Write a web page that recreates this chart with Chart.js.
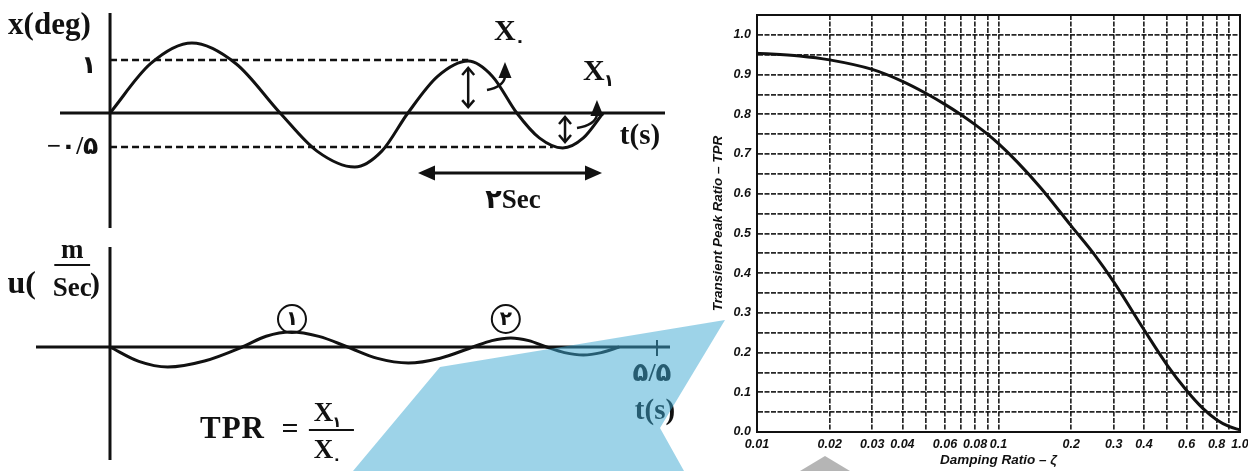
<!DOCTYPE html>
<html>
<head>
<meta charset="utf-8">
<script src="https://cdn.jsdelivr.net/npm/chart.js@4.4.1/dist/chart.umd.min.js"></script>
<style>
  html, body { margin: 0; padding: 0; background: #fff; }
  #page { position: relative; width: 1248px; height: 471px; overflow: hidden; }
  canvas { position: absolute; }
  #angle { left: 0; top: 0; }
  #speed { left: 0; top: 235px; }
  #tpr { left: 700px; top: 0; }
  .shape { position: absolute; left: 0; top: 0; width: 1248px; height: 471px; pointer-events: none; }
  #blue { background: rgba(60, 167, 209, 0.5); clip-path: polygon(353px 471px, 440px 367px, 725px 320px, 660px 428px, 684px 471px); }
  #gray { background: #b5b5b5; clip-path: polygon(800px 471px, 825px 456px, 850px 471px); }
</style>
</head>
<body>
<div id="page">
  <canvas id="angle" width="700" height="235"></canvas>
  <canvas id="speed" width="700" height="236"></canvas>
  <canvas id="tpr" width="548" height="471"></canvas>
  <div id="blue" class="shape"></div>
  <div id="gray" class="shape"></div>
</div>
<script>
// --- top sketch: roll angle x(deg) against t(s)
const angleTime = [0, 0.45, 0.91, 1.4, 1.89, 2.3, 2.72, 3.02, 3.31, 3.64, 3.98, 4.25, 4.52, 4.77, 5.03, 5.26, 5.48];
const angleDeg = [0, 0.93, 1.32, 0.93, 0, -0.72, -1.02, -0.72, 0, 0.69, 0.98, 0.69, 0, -0.47, -0.66, -0.47, 0];
const peakLevels = [1, -0.64];
const peakLevelLabels = ['۱', '−۰/۵'];
const peakLevelEnds = [3.98, 4.92];

// --- bottom sketch: u(m/Sec) against t(s)
const speedTime = [0, 0.29, 0.58, 0.95, 1.33, 1.57, 1.82, 2.1, 2.39, 2.69, 3.0, 3.32, 3.65, 3.84, 4.03, 4.21, 4.39, 4.57, 4.76, 4.94, 5.12];
const speedValue = [0, -0.72, -1.0, -0.7, 0, 0.54, 0.75, 0.53, 0, -0.57, -0.8, -0.56, 0, 0.32, 0.45, 0.32, 0, -0.28, -0.4, -0.28, 0];
const speedPeakTimes = [1.83, 3.98];
const speedPeakLabels = ['۱', '۲'];
const speedEndTick = 5.5;
const speedEndLabel = '۵/۵';

// --- right chart: transient peak ratio against damping ratio
const dampingRatio = [0.01, 0.015, 0.02, 0.03, 0.04, 0.05, 0.06, 0.07, 0.08, 0.09, 0.1, 0.12, 0.15, 0.2, 0.25, 0.3, 0.4, 0.5, 0.6, 0.7, 0.8, 0.9, 1.0];
const peakRatio = [0.954, 0.947, 0.937, 0.913, 0.883, 0.853, 0.825, 0.799, 0.774, 0.750, 0.726, 0.679, 0.614, 0.519, 0.446, 0.378, 0.258, 0.168, 0.105, 0.060, 0.031, 0.014, 0.005];
const dampingGrid = [0.01, 0.02, 0.03, 0.04, 0.05, 0.06, 0.07, 0.08, 0.09, 0.1, 0.2, 0.3, 0.4, 0.5, 0.6, 0.7, 0.8, 0.9, 1.0];
const dampingLabelValues = [0.01, 0.02, 0.03, 0.04, 0.06, 0.08, 0.1, 0.2, 0.3, 0.4, 0.6, 0.8, 1.0];
const dampingTickLabels = ['0.01', '0.02', '0.03', '0.04', '0.06', '0.08', '0.1', '0.2', '0.3', '0.4', '0.6', '0.8', '1.0'];
const ratioGrid = [0, 0.05, 0.1, 0.15, 0.2, 0.25, 0.3, 0.35, 0.4, 0.45, 0.5, 0.55, 0.6, 0.65, 0.7, 0.75, 0.8, 0.85, 0.9, 0.95, 1.0];
const ratioTickLabels = ['0.0', '', '0.1', '', '0.2', '', '0.3', '', '0.4', '', '0.5', '', '0.6', '', '0.7', '', '0.8', '', '0.9', '', '1.0'];

const ink = '#111';
const serif = '"Liberation Serif", "DejaVu Sans", serif';
const bold = size => `bold ${size}px ${serif}`;
const plotFont = '"Liberation Sans", Arial, sans-serif';

function seg(ctx, x1, y1, x2, y2) {
    ctx.beginPath();
    ctx.moveTo(x1, y1);
    ctx.lineTo(x2, y2);
    ctx.stroke();
}

function label(ctx, text, x, y, font, align = 'center', spacing = 0) {
    ctx.font = font;
    ctx.textAlign = align;
    ctx.textBaseline = 'middle';
    ctx.letterSpacing = spacing + 'px';
    ctx.fillText(text, x, y);
    ctx.letterSpacing = '0px';
}

// filled arrow head, tip at (x, y), pointing along angle
function head(ctx, x, y, angle, len, half) {
    const c = Math.cos(angle), s = Math.sin(angle);
    ctx.beginPath();
    ctx.moveTo(x, y);
    ctx.lineTo(x - len * c - half * s, y - len * s + half * c);
    ctx.lineTo(x - len * c + half * s, y - len * s - half * c);
    ctx.closePath();
    ctx.fill();
}

// vertical double arrow with open heads
function vArrow(ctx, x, yTop, yBot) {
    ctx.lineWidth = 2.5;
    seg(ctx, x, yTop, x, yBot);
    ctx.beginPath();
    ctx.moveTo(x - 6, yTop + 7); ctx.lineTo(x, yTop); ctx.lineTo(x + 6, yTop + 7);
    ctx.moveTo(x - 6, yBot - 7); ctx.lineTo(x, yBot); ctx.lineTo(x + 6, yBot - 7);
    ctx.stroke();
}

// curved pointer that bends upward into a filled head
function pointer(ctx, x0, y0, x1, y1) {
    ctx.lineWidth = 2.5;
    ctx.beginPath();
    ctx.moveTo(x0, y0);
    ctx.quadraticCurveTo(x1 - 2, y0 - 3, x1, y1);
    ctx.stroke();
    head(ctx, x1, y1 - 15, -Math.PI / 2, 16, 6.5);
}

function subscripted(ctx, sub, x, y, size) {
    ctx.font = bold(size);
    ctx.textAlign = 'left';
    ctx.textBaseline = 'middle';
    ctx.fillText('X', x, y);
    const w = ctx.measureText('X').width;
    ctx.font = bold(Math.round(size * 0.55));
    ctx.fillText(sub, x + w - 1, y + size * 0.33);
}

const noChrome = {
    responsive: false,
    animation: false,
    events: [],
    plugins: { legend: { display: false }, tooltip: { enabled: false } }
};

// ---------- top sketch ----------
const angleDecor = {
    id: 'angleDecor',
    beforeDatasetsDraw(chart) {
        const { ctx, chartArea: a, scales: { x, y } } = chart;
        ctx.save();
        ctx.strokeStyle = ink;
        ctx.lineWidth = 3;
        seg(ctx, a.left, y.getPixelForValue(0), a.right, y.getPixelForValue(0));
        seg(ctx, x.getPixelForValue(0), a.top, x.getPixelForValue(0), a.bottom);
        ctx.restore();
    },
    afterDatasetsDraw(chart) {
        const { ctx, scales: { x, y } } = chart;
        const X = v => x.getPixelForValue(v), Y = v => y.getPixelForValue(v);
        ctx.save();
        ctx.fillStyle = ink;
        ctx.strokeStyle = ink;
        label(ctx, 'x(deg)', X(-1.133), Y(1.64), bold(31), 'left');
        label(ctx, peakLevelLabels[0], X(-0.15), Y(peakLevels[0]) + 7, bold(25), 'right');
        label(ctx, peakLevelLabels[1], X(-0.13), Y(peakLevels[1]) + 1, bold(25), 'right', 10);
        label(ctx, 't(s)', X(5.889), Y(-0.453), bold(29));
        subscripted(ctx, '۰', X(4.267), Y(1.528), 30);
        subscripted(ctx, '۱', X(5.256), Y(0.774), 30);
        vArrow(ctx, X(3.98), Y(0.85), Y(0.11));
        vArrow(ctx, X(5.056), Y(-0.075), Y(-0.547));
        pointer(ctx, X(4.189), Y(0.434), X(4.389), Y(0.962) + 15);
        pointer(ctx, X(5.189), Y(-0.283), X(5.411), Y(0.245) + 15);
        // period arrow
        ctx.lineWidth = 3;
        seg(ctx, X(3.422) + 10, Y(-1.132), X(5.467) - 10, Y(-1.132));
        head(ctx, X(3.422), Y(-1.132), Math.PI, 17, 7.5);
        head(ctx, X(5.467), Y(-1.132), 0, 17, 7.5);
        label(ctx, '۲Sec', X(4.478), Y(-1.66), bold(27));
        ctx.restore();
    }
};

new Chart(document.getElementById('angle'), {
    type: 'scatter',
    data: {
        datasets: [
            {
                data: angleTime.map((t, i) => ({ x: t, y: angleDeg[i] })),
                showLine: true, borderColor: ink, borderWidth: 3, pointRadius: 0,
                cubicInterpolationMode: 'monotone'
            },
            ...peakLevels.map((lv, i) => ({
                data: [{ x: 0, y: lv }, { x: peakLevelEnds[i], y: lv }],
                showLine: true, borderColor: ink, borderWidth: 2.5, borderDash: [7, 4], pointRadius: 0
            }))
        ]
    },
    options: {
        ...noChrome,
        layout: { padding: { left: 60, right: 35, top: 13, bottom: 7 } },
        scales: {
            x: { type: 'linear', display: false, min: -0.556, max: 6.167 },
            y: { type: 'linear', display: false, min: -2.17, max: 1.887 }
        }
    },
    plugins: [angleDecor]
});

// ---------- bottom sketch ----------
const speedDecor = {
    id: 'speedDecor',
    beforeDatasetsDraw(chart) {
        const { ctx, chartArea: a, scales: { x, y } } = chart;
        const X = v => x.getPixelForValue(v), Y = v => y.getPixelForValue(v);
        ctx.save();
        ctx.strokeStyle = ink;
        ctx.lineWidth = 3;
        seg(ctx, a.left, Y(0), a.right, Y(0));
        seg(ctx, X(0), a.top, X(0), a.bottom);
        ctx.lineWidth = 2;
        seg(ctx, X(speedEndTick), Y(0.35), X(speedEndTick), Y(-0.45));
        ctx.restore();
    },
    afterDatasetsDraw(chart) {
        const { ctx, scales: { x, y } } = chart;
        const X = v => x.getPixelForValue(v), Y = v => y.getPixelForValue(v);
        ctx.save();
        ctx.fillStyle = ink;
        ctx.strokeStyle = ink;
        // u(m/Sec)
        label(ctx, 'u(', X(-1.03), Y(3.1), bold(32), 'left');
        label(ctx, 'm', X(-0.38), Y(4.8), bold(27));
        ctx.lineWidth = 2;
        seg(ctx, X(-0.56), Y(4.1), X(-0.2), Y(4.1));
        label(ctx, 'Sec', X(-0.38), Y(2.9), bold(27));
        label(ctx, ')', X(-0.2), Y(3.1), bold(30), 'left');
        // circled peak numbers
        speedPeakTimes.forEach((t, i) => {
            ctx.lineWidth = 2;
            ctx.beginPath();
            ctx.arc(X(t), Y(1.4), 14, 0, Math.PI * 2);
            ctx.stroke();
            label(ctx, speedPeakLabels[i], X(t), Y(1.4) + 1, bold(20));
        });
        label(ctx, speedEndLabel, X(5.45), Y(-1.35), bold(26));
        label(ctx, 't(s)', X(5.48), Y(-3.25), bold(29));
        // TPR = X1 / X0
        label(ctx, 'TPR', X(0.905), Y(-4.15), bold(31), 'left', 1);
        label(ctx, '=', X(1.81), Y(-4.15), bold(30));
        ctx.lineWidth = 2;
        seg(ctx, X(2.0), Y(-4.15), X(2.453), Y(-4.15));
        subscripted(ctx, '۱', X(2.05), Y(-3.35), 27);
        subscripted(ctx, '۰', X(2.05), Y(-5.2), 27);
        ctx.restore();
    }
};

new Chart(document.getElementById('speed'), {
    type: 'scatter',
    data: {
        datasets: [{
            data: speedTime.map((t, i) => ({ x: t, y: speedValue[i] })),
            showLine: true, borderColor: ink, borderWidth: 3, pointRadius: 0,
            cubicInterpolationMode: 'monotone'
        }]
    },
    options: {
        ...noChrome,
        layout: { padding: { left: 36, right: 30, top: 12, bottom: 11 } },
        scales: {
            x: { type: 'linear', display: false, min: -0.744, max: 5.631 },
            y: { type: 'linear', display: false, min: -5.65, max: 5 }
        }
    },
    plugins: [speedDecor]
});

// ---------- TPR chart ----------
const dampingLabel = new Map(dampingLabelValues.map((v, i) => [v, dampingTickLabels[i]]));

const frame = {
    id: 'frame',
    afterDraw(chart) {
        const { ctx, chartArea: a } = chart;
        ctx.save();
        ctx.strokeStyle = ink;
        ctx.lineWidth = 2;
        ctx.strokeRect(a.left, a.top, a.right - a.left, a.bottom - a.top);
        ctx.restore();
    }
};

const gridInk = 'rgba(15, 15, 15, 0.9)';
const tickFont = { family: plotFont, size: 12.5, weight: 'bold', style: 'italic' };
const titleFont = { family: plotFont, size: 13.5, weight: 'bold', style: 'italic' };

new Chart(document.getElementById('tpr'), {
    type: 'scatter',
    data: {
        datasets: [{
            data: dampingRatio.map((z, i) => ({ x: z, y: peakRatio[i] })),
            showLine: true, borderColor: ink, borderWidth: 3, pointRadius: 0,
            cubicInterpolationMode: 'monotone'
        }]
    },
    options: {
        ...noChrome,
        layout: { padding: { left: 0, right: 8, top: 15, bottom: 0 } },
        scales: {
            x: {
                type: 'logarithmic',
                min: 0.01,
                max: 1,
                afterBuildTicks: s => { s.ticks = dampingGrid.map(v => ({ value: v })); },
                afterFit: s => { s.height = 39; s.paddingLeft = 0; s.paddingRight = 0; },
                grid: { color: gridInk, lineWidth: 1.7, drawTicks: false },
                border: { display: true, color: ink, width: 2, dash: [5, 1.5] },
                ticks: {
                    autoSkip: false, maxRotation: 0, padding: 5, color: ink, font: tickFont,
                    callback: v => dampingLabel.get(v) ?? ''
                },
                title: { display: true, text: 'Damping Ratio – ζ', color: ink, font: titleFont, padding: { top: 0, bottom: 3 } }
            },
            y: {
                min: 0,
                max: 1.05,
                afterBuildTicks: s => { s.ticks = ratioGrid.map(v => ({ value: v })); },
                afterFit: s => { s.width = 57; },
                grid: { color: gridInk, lineWidth: 1.7, drawTicks: false },
                border: { display: true, color: ink, width: 2, dash: [5, 1.5] },
                ticks: {
                    padding: 6, color: ink, font: tickFont,
                    callback: v => ratioTickLabels[ratioGrid.indexOf(v)] ?? ''
                },
                title: { display: true, text: 'Transient Peak Ratio – TPR', color: ink, font: titleFont, padding: { top: 10, bottom: 0 } }
            }
        }
    },
    plugins: [frame]
});
</script>
</body>
</html>
